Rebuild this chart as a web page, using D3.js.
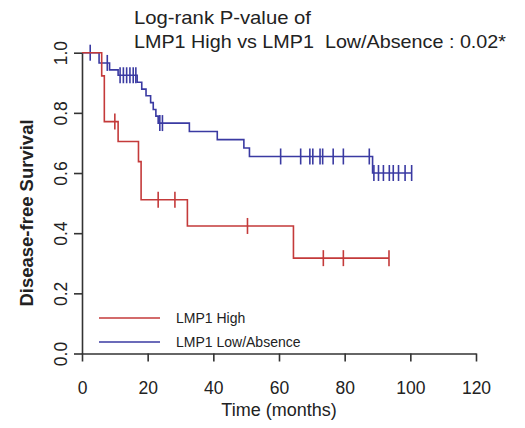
<!DOCTYPE html>
<html>
<head>
<meta charset="utf-8">
<script src="https://cdn.jsdelivr.net/npm/d3@7"></script>
<style>
  html, body { margin: 0; padding: 0; background: #fff; }
  svg { display: block; font-family: "Liberation Sans", Arial, sans-serif; }
</style>
</head>
<body>
<svg id="chart" width="525" height="428"></svg>
<script>
// ---- data ----
const timeTicks = [0, 20, 40, 60, 80, 100, 120];
const survTicks = [0.0, 0.2, 0.4, 0.6, 0.8, 1.0];

// LMP1 High (red)
const highTimes = [0, 6.0, 6.8, 11.0, 17.2, 18.0, 32.1, 64.4];
const highSurv  = [1.0, 0.923, 0.771, 0.705, 0.638, 0.511, 0.424, 0.317];
const highEnd = 93.5;
const highCensor = [10.0, 23.2, 28.3, 50.4, 73.5, 79.6, 93.5];

// LMP1 Low/Absence (blue)
const lowTimes = [0, 5.2, 8.4, 11.0, 16.8, 18.2, 19.5, 20.9, 21.7, 22.5, 23.2, 32.7, 41.2, 49.3, 51.0, 88.5];
const lowSurv  = [1.0, 0.966, 0.943, 0.925, 0.902, 0.879, 0.857, 0.834, 0.811, 0.789, 0.766, 0.738, 0.711, 0.683, 0.655, 0.600];
const lowEnd = 100.4;
const lowCensor = [2.5, 7.7, 11.6, 12.6, 13.6, 14.6, 15.6, 16.4, 23.7, 24.5,
                   60.5, 66.6, 69.4, 70.3, 72.5, 73.3, 76.5, 79.6, 87.5,
                   88.9, 90.3, 91.8, 93.6, 94.8, 96.4, 98.4, 100.4];

const seriesNames = ["LMP1 High", "LMP1 Low/Absence"];
const titleLines = ["Log-rank P-value of", "LMP1 High vs LMP1  Low/Absence : 0.02*"];

// ---- layout ----
const svg = d3.select("#chart");
const x0 = 82, x1 = 476, yTop = 52.7, yBot = 353.5;
const x = d3.scaleLinear().domain([0, 120]).range([x0, x1]);
const y = d3.scaleLinear().domain([0, 1]).range([yBot, yTop]);
const axisColor = "#333";

const series = [
  { name: seriesNames[0], times: highTimes, surv: highSurv, end: highEnd, censor: highCensor, color: "#c43a3a" },
  { name: seriesNames[1], times: lowTimes, surv: lowSurv, end: lowEnd, censor: lowCensor, color: "#3a3aa2" }
];

function survAt(s, t) {
  let v = s.surv[0];
  for (let i = 0; i < s.times.length; i++) if (s.times[i] <= t) v = s.surv[i];
  return v;
}

const line = d3.line().x(d => x(d[0])).y(d => y(d[1])).curve(d3.curveStepAfter);

[series[1], series[0]].forEach(s => {
  const pts = s.times.map((t, i) => [t, s.surv[i]]);
  pts.push([s.end, s.surv[s.surv.length - 1]]);
  svg.append("path").attr("d", line(pts))
    .attr("fill", "none").attr("stroke", s.color).attr("stroke-width", 1.6);
  svg.append("g").selectAll("line").data(s.censor).join("line")
    .attr("x1", d => x(d)).attr("x2", d => x(d))
    .attr("y1", d => y(survAt(s, d)) - 8).attr("y2", d => y(survAt(s, d)) + 8)
    .attr("stroke", s.color).attr("stroke-width", 1.6);
});

// ---- axes ----
const gx = svg.append("g").attr("transform", `translate(0,${yBot})`)
  .call(d3.axisBottom(x).tickValues(timeTicks).tickSize(8).tickSizeOuter(0).tickFormat(d3.format("d")));
gx.select(".domain").attr("stroke", axisColor).attr("stroke-width", 1.6);
gx.selectAll(".tick line").attr("stroke", axisColor).attr("stroke-width", 1.6);
gx.selectAll(".tick text").attr("y", 40).attr("dy", 0)
  .attr("font-size", 17.5).attr("fill", "#222").attr("font-family", "Liberation Sans, Arial, sans-serif");

const gy = svg.append("g").attr("transform", `translate(${x0},0)`)
  .call(d3.axisLeft(y).tickValues(survTicks).tickSize(8).tickSizeOuter(0).tickFormat(d3.format(".1f")));
gy.select(".domain").attr("stroke", axisColor).attr("stroke-width", 1.6);
gy.selectAll(".tick line").attr("stroke", axisColor).attr("stroke-width", 1.6);
gy.selectAll(".tick text").attr("x", 0).attr("dy", 0).attr("text-anchor", "middle")
  .attr("transform", "translate(-15,0) rotate(-90)")
  .attr("font-size", 17.5).attr("fill", "#222").attr("font-family", "Liberation Sans, Arial, sans-serif");

// axis titles
svg.append("text").attr("x", (x0 + x1) / 2).attr("y", 416).attr("text-anchor", "middle")
  .attr("font-size", 18).attr("fill", "#222").text("Time (months)");
svg.append("text").attr("transform", `translate(33,213) rotate(-90)`).attr("text-anchor", "middle")
  .attr("font-size", 18.5).attr("font-weight", "bold").attr("fill", "#222").text("Disease-free Survival");

// title
svg.append("text").attr("x", 134).attr("y", 24).attr("font-size", 19).attr("fill", "#222")
  .attr("textLength", 177).attr("lengthAdjust", "spacingAndGlyphs").text(titleLines[0]);
svg.append("text").attr("x", 134).attr("y", 48).attr("font-size", 19).attr("fill", "#222")
  .style("white-space", "pre")
  .attr("textLength", 372).attr("lengthAdjust", "spacingAndGlyphs").text(titleLines[1]);

// legend
const leg = svg.append("g");
series.forEach((s, i) => {
  const ly = 318 + i * 24;
  leg.append("line").attr("x1", 99).attr("x2", 160).attr("y1", ly).attr("y2", ly)
    .attr("stroke", s.color).attr("stroke-width", 1.6);
  leg.append("text").attr("x", 176).attr("y", ly + 5).attr("font-size", 14).attr("fill", "#222").text(s.name);
});
</script>
</body>
</html>
